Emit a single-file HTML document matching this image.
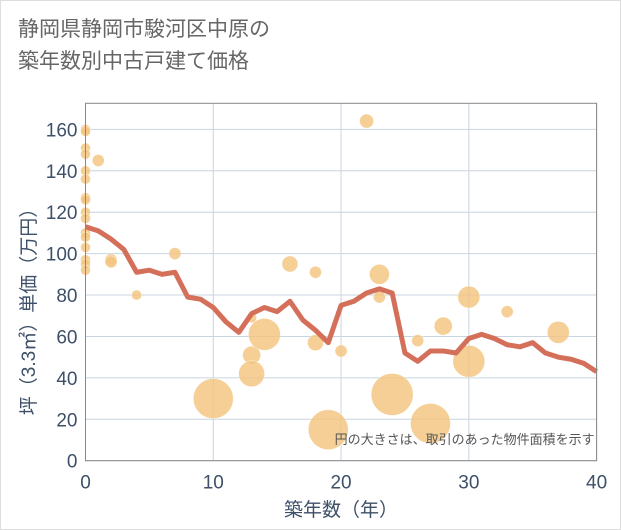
<!DOCTYPE html>
<html><head><meta charset="utf-8"><style>
body{margin:0;background:#fff;}
#wrap{position:relative;width:621px;height:530px;overflow:hidden;background:#fff;font-family:"Liberation Sans","Noto Sans CJK JP",sans-serif;}
#frame{position:absolute;left:0;top:0;width:619px;height:528px;border:1px solid #ddd;}
#title{position:absolute;left:18px;top:14px;font-size:21px;line-height:32px;color:#666;}
</style></head><body>
<div id="wrap">
<div id="frame"></div>
<div id="title">静岡県静岡市駿河区中原の<br>築年数別中古戸建て価格</div>
<svg id="svg" width="621" height="530" style="position:absolute;left:0;top:0"></svg>
</div>
<script>
const xTicks=[0,10,20,30,40];
const yTicks=[0,20,40,60,80,100,120,140,160];
const lineX=[0,1,2,3,4,5,6,7,8,9,10,11,12,13,14,15,16,17,18,19,20,21,22,23,24,25,26,27,28,29,30,31,32,33,34,35,36,37,38,39,40];
const lineY=[113,111,107,102,91,92,90,91,79,78,74,67,62,71,74,72,77,68,63,57,75,77,81,83,81,52,48,53,53,52,59,61,59,56,55,57,52,50,49,47,43];
const bubX=[0,0,0,0,0,0,0,0,0,0,0,0,0,0,0,0,1,2,2,4,7,10,13,13,13,14,16,18,18,19,20,22,23,23,24,26,27,28,30,30,33,37];
const bubY=[160,159,151,148,140,136,127,126,120,117,110,108,103,97,95,92,145,97,96,80,100,30,69,51,42,61,95,91,57,15,53,164,90,79,32,58,18,65,79,48,72,62];
const bubArea=[25,25,25,25,25,25,25,25,25,25,25,25,25,25,25,25,36,36,36,25,36,400,25,81,169,256,64,36,64,400,36,49,100,36,441,36,400,81,121,256,36,121];
const L=85.5,R=596.6,T=103.3,B=460.7,XMAX=40,YMAX=172.6;
const sx=v=>L+(R-L)*v/XMAX, sy=v=>B-(B-T)*v/YMAX;
const svg=document.getElementById('svg');const NS='http://www.w3.org/2000/svg';
function mk(t,a,p){const e=document.createElementNS(NS,t);for(const k in a)e.setAttribute(k,a[k]);(p||svg).appendChild(e);return e;}
const bg=mk('rect',{x:L,y:T,width:R-L,height:B-T,fill:'#fff'});


yTicks.forEach(v=>{const g=mk('line',{x1:L,x2:R,y1:sy(v),y2:sy(v),stroke:'#c8d4e0','stroke-width':1});


const t=mk('text',{x:L-8,y:sy(v)+7,'text-anchor':'end','font-size':19,fill:'#3d5068'});t.textContent=v;

});
xTicks.forEach(v=>{const g=mk('line',{x1:sx(v),x2:sx(v),y1:T,y2:B,stroke:'#c8d4e0','stroke-width':1});


const t=mk('text',{x:sx(v),y:B+28,'text-anchor':'middle','font-size':19,fill:'#3d5068'});t.textContent=v;

});
bubX.forEach((x,i)=>{const c=mk('circle',{cx:sx(x),cy:sy(bubY[i]),r:Math.sqrt(bubArea[i]),fill:'#f3c57f','fill-opacity':0.82,stroke:'#fff','stroke-width':0.6,'stroke-opacity':0.6});

});
const pl=mk('polyline',{points:lineX.map((x,i)=>sx(x)+','+sy(lineY[i])).join(' '),fill:'none',stroke:'#d4705a','stroke-width':5,'stroke-linejoin':'round'});


const br=mk('rect',{x:L,y:T,width:R-L,height:B-T,fill:'none',stroke:'#888','stroke-width':1});


const note=mk('text',{x:R-2,y:444,'text-anchor':'end','font-size':13,fill:'#555'});note.textContent='円の大きさは、取引のあった物件面積を示す';


const xt=mk('text',{x:(L+R)/2,y:516,'text-anchor':'middle','font-size':19,fill:'#3d5068'});xt.textContent='築年数（年）';


const yt=mk('text',{x:0,y:0,'text-anchor':'middle','font-size':19,fill:'#3d5068',transform:'translate(35,'+((T+B)/2+25)+') rotate(-90)'});yt.textContent='坪（3.3㎡）単価（万円）';


</script>
</body></html>
